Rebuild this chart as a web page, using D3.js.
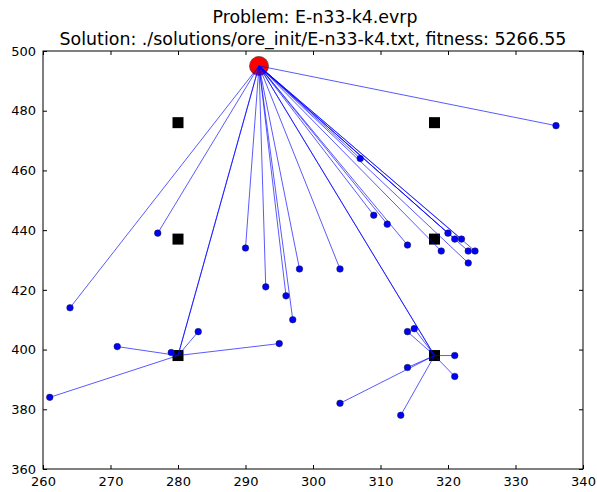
<!DOCTYPE html>
<html>
<head>
<meta charset="utf-8">
<script src="https://cdn.jsdelivr.net/npm/d3@7"></script>
<style>
  body { margin: 0; background: #fff; }
  text { font-family: "DejaVu Sans", sans-serif; fill: #000; }
</style>
</head>
<body>
<div id="chart"></div>
<script>
const width = 597;
const height = 492;
const margin = {top: 51, right: 14, bottom: 23, left: 43};

const title = 'Problem: E-n33-k4.evrp';
const subtitle = 'Solution: ./solutions/ore_init/E-n33-k4.txt, fitness: 5266.55';

const xTicks = [260, 270, 280, 290, 300, 310, 320, 330, 340];
const yTicks = [360, 380, 400, 420, 440, 460, 480, 500];

const depot = [292, 495];
const stationX = [280, 318, 280, 318, 280, 318];
const stationY = [476, 476, 437, 437, 398, 398];

// customers served straight from the depot
const directX = [336, 277, 264, 290, 293, 296, 297, 298, 304, 307, 309, 311, 314, 319, 320, 321, 322, 323, 324, 323];
const directY = [475, 439, 414, 434, 421, 418, 410, 427, 427, 464, 445, 442, 435, 433, 439, 437, 437, 433, 433, 429];

// customers reached through the station at (280, 398)
const westX = [279, 271, 261, 283, 295];
const westY = [399, 401, 384, 406, 402];

// customers reached through the station at (318, 398)
const eastX = [314, 315, 321, 314, 321, 304, 313];
const eastY = [406, 407, 398, 394, 391, 382, 378];

const svg = d3.select('#chart').append('svg')
    .attr('width', width)
    .attr('height', height);

const x = d3.scaleLinear().domain([260, 340]).range([margin.left, width - margin.right]);
const y = d3.scaleLinear().domain([360, 500]).range([height - margin.bottom, margin.top]);

svg.append('text')
    .attr('x', (x(260) + x(340)) / 2 + 2)
    .attr('y', 23)
    .attr('text-anchor', 'middle')
    .style('font-size', '17.4px')
    .text(title);
svg.append('text')
    .attr('x', (x(260) + x(340)) / 2)
    .attr('y', 45)
    .attr('text-anchor', 'middle')
    .style('font-size', '17.4px')
    .text(subtitle);

// segments
const segs = [];
directX.forEach((cx, i) => segs.push([depot, [cx, directY[i]]]));
const west = [stationX[4], stationY[4]];
const east = [stationX[5], stationY[5]];
segs.push([depot, west], [depot, west]);
westX.forEach((cx, i) => segs.push([west, [cx, westY[i]]]));
segs.push([depot, east], [depot, east]);
eastX.forEach((cx, i) => segs.push([east, [cx, eastY[i]]]));

const plot = svg.append('g');

plot.append('circle')
    .attr('cx', x(depot[0]))
    .attr('cy', y(depot[1]))
    .attr('r', 9.5)
    .attr('fill', 'red')
    .attr('stroke', '#333')
    .attr('stroke-width', 0.6);

plot.selectAll('rect.station').data(stationX).join('rect')
    .attr('class', 'station')
    .attr('x', (d, i) => x(d) - 5.5)
    .attr('y', (d, i) => y(stationY[i]) - 5.5)
    .attr('width', 11)
    .attr('height', 11)
    .attr('fill', '#000');

const custX = directX.concat(westX, eastX);
const custY = directY.concat(westY, eastY);
plot.selectAll('circle.cust').data(custX).join('circle')
    .attr('class', 'cust')
    .attr('cx', d => x(d))
    .attr('cy', (d, i) => y(custY[i]))
    .attr('r', 3.3)
    .attr('fill', '#0000ff')
    .attr('stroke', '#222')
    .attr('stroke-width', 0.5);

plot.selectAll('line.route').data(segs).join('line')
    .attr('class', 'route')
    .attr('x1', d => x(d[0][0]))
    .attr('y1', d => y(d[0][1]))
    .attr('x2', d => x(d[1][0]))
    .attr('y2', d => y(d[1][1]))
    .attr('stroke', '#0000ff')
    .attr('stroke-opacity', 0.65)
    .attr('stroke-width', 1);

// frame and inward ticks on all four sides
svg.append('rect')
    .attr('x', x(260))
    .attr('y', y(500))
    .attr('width', x(340) - x(260))
    .attr('height', y(360) - y(500))
    .attr('fill', 'none')
    .attr('stroke', '#000')
    .attr('stroke-width', 1);

const axBottom = svg.append('g')
    .attr('transform', `translate(0,${y(360)})`)
    .call(d3.axisBottom(x).tickValues(xTicks).tickSize(-4).tickPadding(8).tickFormat(d3.format('d')));
const axTop = svg.append('g')
    .attr('transform', `translate(0,${y(500)})`)
    .call(d3.axisTop(x).tickValues(xTicks).tickSize(-4).tickFormat(''));
const axLeft = svg.append('g')
    .attr('transform', `translate(${x(260)},0)`)
    .call(d3.axisLeft(y).tickValues(yTicks).tickSize(-4).tickPadding(7).tickFormat(d3.format('d')));
const axRight = svg.append('g')
    .attr('transform', `translate(${x(340)},0)`)
    .call(d3.axisRight(y).tickValues(yTicks).tickSize(-4).tickFormat(''));

[axBottom, axTop, axLeft, axRight].forEach(g => {
  g.select('.domain').remove();
  g.selectAll('.tick text').style('font-size', '13px').style('font-family', '"DejaVu Sans", sans-serif');
});
</script>
</body>
</html>
